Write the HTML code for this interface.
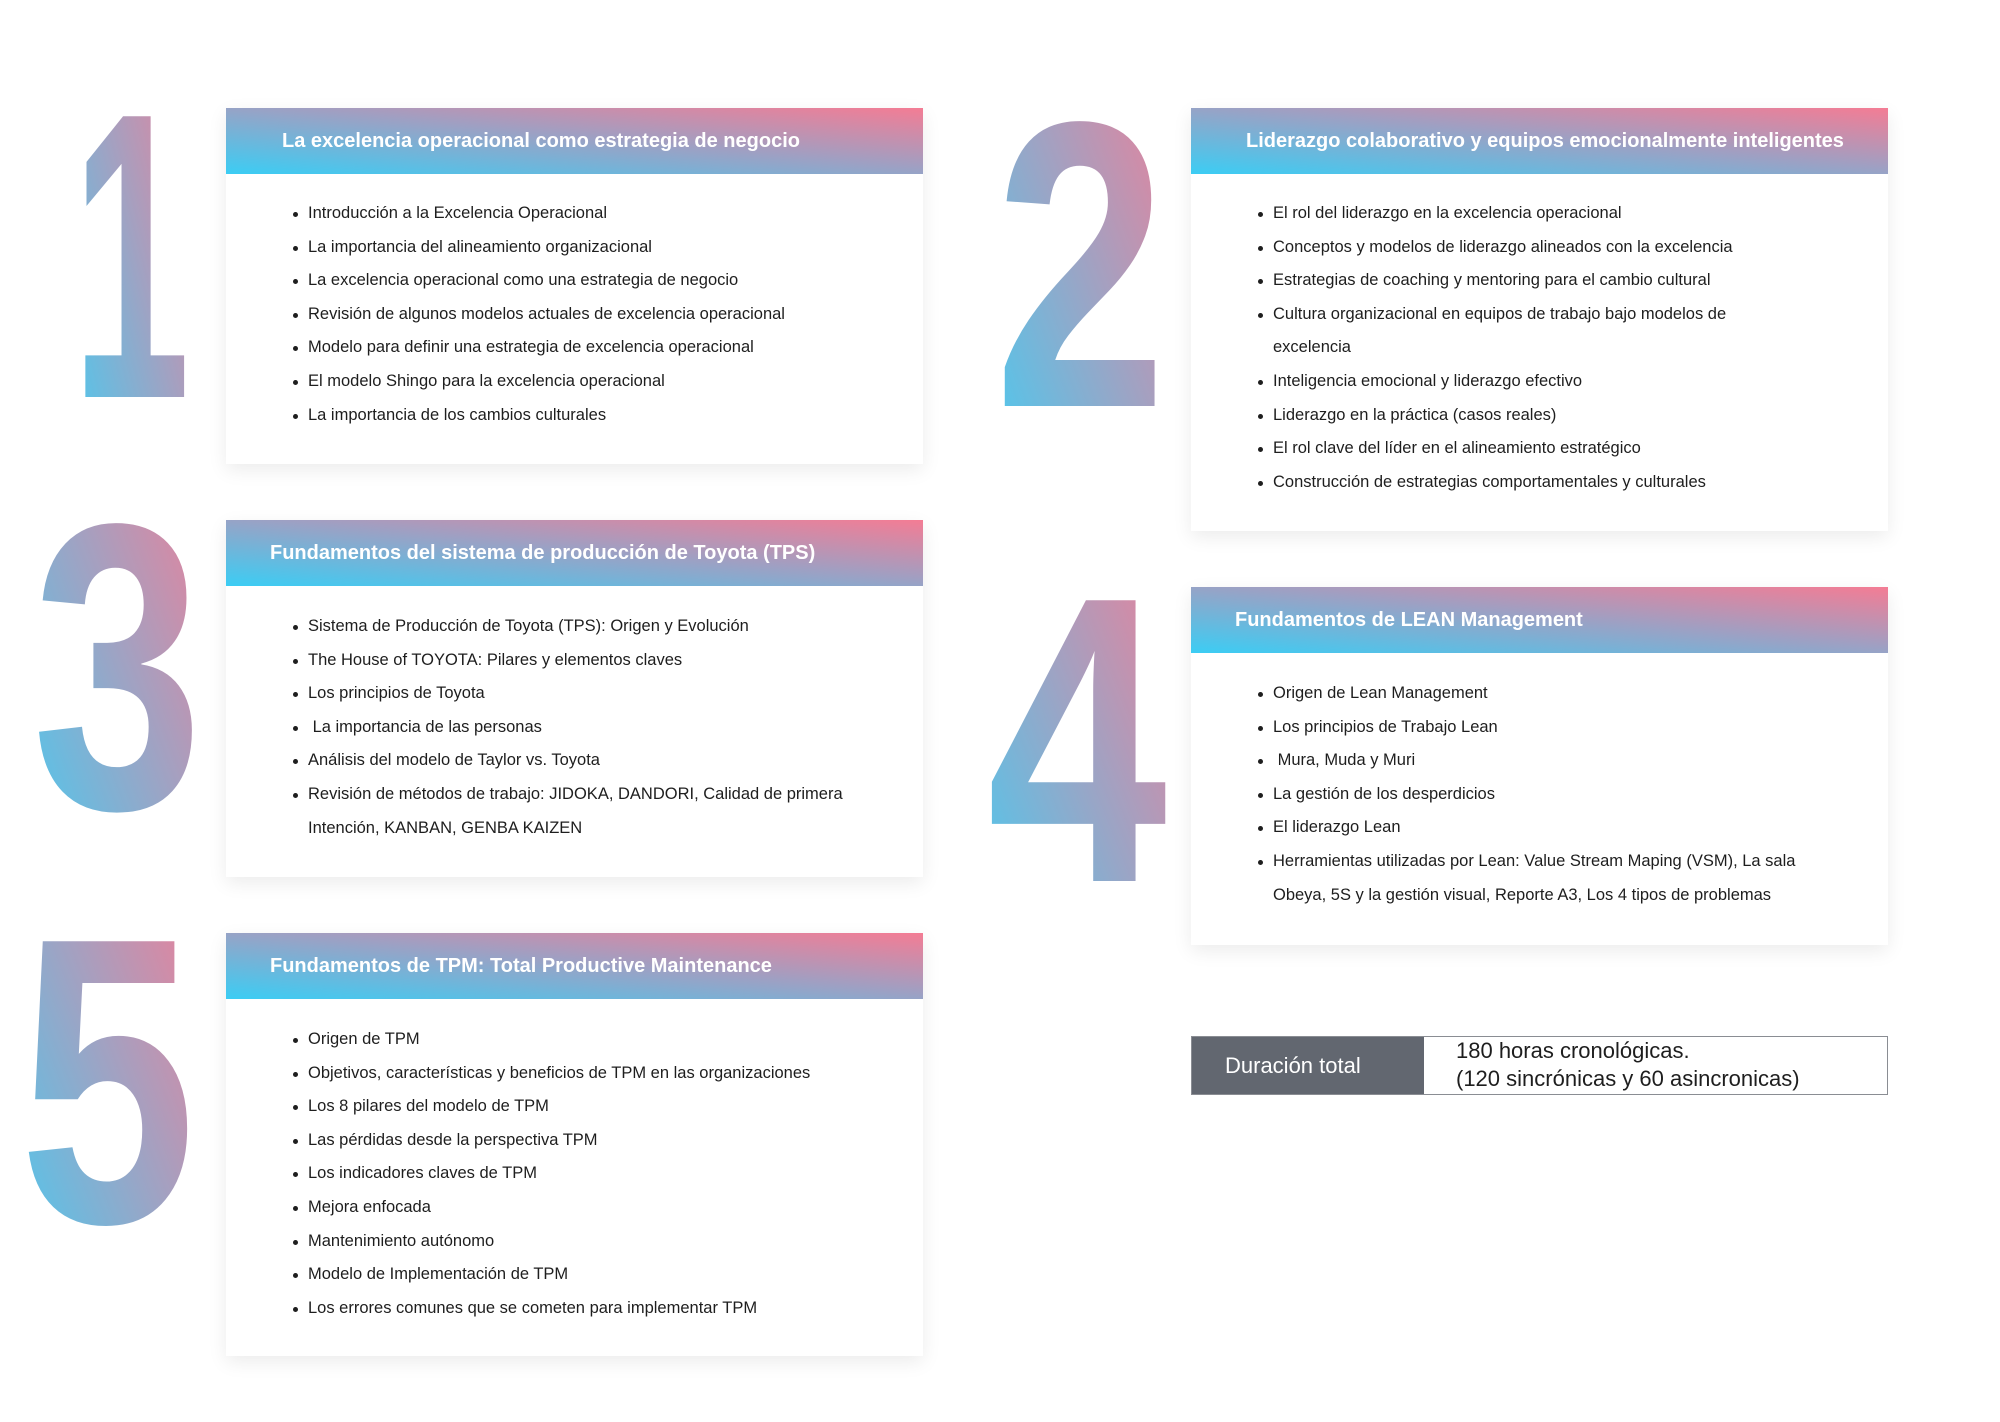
<!DOCTYPE html>
<html><head><meta charset="utf-8"><style>
body{margin:0;width:2000px;height:1422px;background:#fff;position:relative;overflow:hidden;font-family:"Liberation Sans",sans-serif;color:#1e1e1e}
.card{position:absolute;background:#fff;box-shadow:0 6px 18px rgba(0,0,0,0.08)}
.hd{position:absolute;left:0;right:0;top:0;height:66px;background:linear-gradient(to top right,#3bcdf4 0%,#a09fc2 55%,#f47c94 100%);color:#fff;font-size:20px;font-weight:bold;line-height:66px}
ul{position:absolute;margin:0;padding:0;list-style:none;left:68px;font-size:16.5px;line-height:33.6px}
li{position:relative;padding-left:14px}
li:before{content:"";position:absolute;left:-1px;top:15px;width:5px;height:5px;border-radius:50%;background:#1e1e1e}
svg{position:absolute;left:0;top:0}
</style></head><body>
<svg width="2000" height="1422">
<defs><linearGradient id="g" x1="0" y1="1" x2="1" y2="0"><stop offset="0" stop-color="#45ccf2"/><stop offset="0.55" stop-color="#a5a0c0"/><stop offset="1" stop-color="#f27d95"/></linearGradient></defs>
<g fill="url(#g)" font-family="Liberation Sans" font-weight="bold" font-size="408">
<text x="72" y="397" textLength="118" lengthAdjust="spacingAndGlyphs">1</text>
<text x="994" y="406" textLength="173" lengthAdjust="spacingAndGlyphs">2</text>
<text x="32" y="808" textLength="171" lengthAdjust="spacingAndGlyphs">3</text>
<text x="987" y="881" textLength="180" lengthAdjust="spacingAndGlyphs">4</text>
<text x="19" y="1222" textLength="177" lengthAdjust="spacingAndGlyphs">5</text>
</g></svg>

<div class="card" style="left:226px;top:108px;width:697px;height:356px">
<div class="hd" style="padding-left:56px">La excelencia operacional como  estrategia de negocio</div>
<ul style="top:89px">
<li>Introducción a la Excelencia Operacional</li>
<li>La importancia del alineamiento organizacional</li>
<li>La excelencia operacional como una estrategia de negocio</li>
<li>Revisión de algunos modelos actuales de  excelencia operacional</li>
<li>Modelo para definir una estrategia de excelencia operacional</li>
<li>El modelo Shingo para la excelencia operacional</li>
<li>La importancia de los cambios culturales</li>
</ul></div>

<div class="card" style="left:1191px;top:108px;width:697px;height:423px">
<div class="hd" style="padding-left:55px">Liderazgo colaborativo y equipos  emocionalmente inteligentes</div>
<ul style="top:89px;width:520px">
<li>El rol del liderazgo en la excelencia operacional</li>
<li>Conceptos y modelos de liderazgo alineados con la excelencia</li>
<li>Estrategias de coaching y mentoring para el cambio cultural</li>
<li>Cultura organizacional en equipos de trabajo bajo modelos de<br>excelencia</li>
<li>Inteligencia emocional y liderazgo efectivo</li>
<li>Liderazgo en la práctica (casos reales)</li>
<li>El rol clave del líder en el alineamiento estratégico</li>
<li>Construcción de estrategias comportamentales y culturales</li>
</ul></div>

<div class="card" style="left:226px;top:520px;width:697px;height:357px">
<div class="hd" style="padding-left:44px">Fundamentos del sistema de producción de  Toyota (TPS)</div>
<ul style="top:90px;width:600px">
<li>Sistema de Producción de Toyota (TPS): Origen y Evolución</li>
<li>The House of TOYOTA: Pilares y elementos claves</li>
<li>Los principios de Toyota</li>
<li>&nbsp;La importancia de las personas</li>
<li>Análisis del modelo de Taylor vs. Toyota</li>
<li>Revisión de métodos de trabajo: JIDOKA, DANDORI, Calidad de primera Intención, KANBAN, GENBA KAIZEN</li>
</ul></div>

<div class="card" style="left:1191px;top:587px;width:697px;height:358px">
<div class="hd" style="padding-left:44px">Fundamentos de LEAN Management</div>
<ul style="top:90px;width:580px">
<li>Origen de Lean Management</li>
<li>Los principios de Trabajo Lean</li>
<li>&nbsp;Mura, Muda y Muri</li>
<li>La gestión de los desperdicios</li>
<li>El liderazgo Lean</li>
<li>Herramientas utilizadas por Lean: Value Stream Maping (VSM), La sala Obeya, 5S y la gestión visual, Reporte A3, Los 4 tipos de problemas</li>
</ul></div>

<div class="card" style="left:226px;top:933px;width:697px;height:423px">
<div class="hd" style="padding-left:44px">Fundamentos de TPM: Total Productive  Maintenance</div>
<ul style="top:90px">
<li>Origen de TPM</li>
<li>Objetivos, características y beneficios de TPM en las organizaciones</li>
<li>Los 8 pilares del modelo de TPM</li>
<li>Las pérdidas desde la perspectiva TPM</li>
<li>Los indicadores claves de TPM</li>
<li>Mejora enfocada</li>
<li>Mantenimiento autónomo</li>
<li>Modelo de Implementación de TPM</li>
<li>Los errores comunes que se cometen para implementar TPM</li>
</ul></div>

<div style="position:absolute;left:1191px;top:1036px;width:695px;height:57px;border:1px solid #8a8d93;background:#fff">
<div style="position:absolute;left:0;top:0;width:232px;height:57px;background:#626770;color:#fff;font-size:22px;line-height:57px;padding-left:33px;box-sizing:border-box">Duración total</div>
<div style="position:absolute;left:264px;top:0;font-size:22px;line-height:28px;color:#1e1e1e">180 horas cronológicas.<br>(120 sincrónicas y 60 asincronicas)</div>
</div>
</body></html>
